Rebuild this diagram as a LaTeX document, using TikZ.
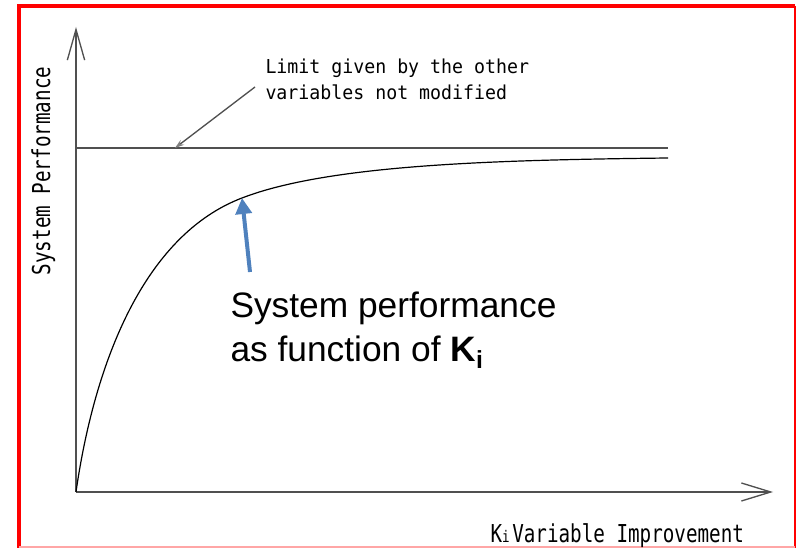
\documentclass[tikz,border=0pt]{standalone}
\usepackage{fontspec}
\setmainfont{Liberation Sans}
\newfontfamily\limitfont[FakeStretch=0.95]{DejaVu Sans Mono}
\newfontfamily\axisfont[FakeStretch=0.78]{DejaVu Sans Mono}
\usetikzlibrary{arrows.meta}

\definecolor{axisgray}{RGB}{80,80,80}
\definecolor{noteblue}{RGB}{79,129,189}

\tikzset{every picture/.style={line width=0.75pt}}

\begin{document}
\begin{tikzpicture}[x=0.75pt,y=0.75pt,yscale=-1,xscale=1,
	axisline/.style={draw=axisgray,line width=1pt},
	cadtext/.style={inner sep=0pt,text=black,align=left}]
	\useasboundingbox (0,0) rectangle (796,548);

	%Frame
	\draw [red,line width=3pt] (795,6) -- (19,6) -- (19,548) ;
	\draw [red,line width=1.5pt] (795,6) -- (795,548) ;
	\draw [red!35,line width=1pt] (19,547) -- (795,547) ;

	%Axes
	\coordinate (O) at (76,492) ;
	\coordinate (ytop) at (76,27) ;
	\coordinate (xend) at (773,492) ;
	\draw [axisline,-{Straight Barb[length=23pt,width=13pt]}] (O) -- (ytop) ;
	\draw [axisline,-{Straight Barb[length=22pt,width=13.5pt]}] (O) -- (xend) ;

	%Straight Lines: limit
	\coordinate (limL) at (76,148) ;
	\coordinate (limR) at (668,148) ;
	\draw [axisline] (limL) -- (limR) ;

	%Curve Lines: performance
	\coordinate (knee) at (242,198) ;
	\coordinate (curveR) at (668,158) ;
	\draw [black,line width=0.9pt] (O) .. controls (95,360) and (145,235) .. (knee) .. controls (330,164) and (500,160) .. (curveR) ;

	% Text Node (base = last line)
	\node [cadtext,anchor=base west,font=\limitfont\fontsize{14.4}{19.5}\selectfont] (limtxt) at (265,100) {Limit given by the other\\variables not modified};
	% Text Node
	\node [cadtext,anchor=base,rotate=90,font=\axisfont\fontsize{18.5}{22}\selectfont] (ylab) at (50,171) {System Performance};
	% Text Node
	\node [cadtext,anchor=base west,font=\axisfont\fontsize{18.5}{22}\selectfont] (xlab) at (490,542) {K{\fontsize{12}{12}\selectfont i}\hspace{2pt}Variable Improvement};
	% Text Node (base = last line)
	\node [cadtext,anchor=base west,font=\fontsize{26.5}{33}\selectfont] (perf) at (230,362) {System performance\\as function of \textbf{K}\textsubscript{\textbf{i}}};

	%Arrows to the lines
	\coordinate (limtail) at (255,87) ;
	\coordinate (limhit) at (175,148) ;
	\draw [axisline,-{Stealth[length=7pt,width=4.5pt,fill=gray!50,color=gray]}] (limtail) -- (limhit) ;
	\coordinate (perftail) at (250,272) ;
	\draw [noteblue,line width=3pt,-{Triangle[length=12pt,width=12pt]}] (perftail) -- (knee) ;

\end{tikzpicture}
\end{document}
